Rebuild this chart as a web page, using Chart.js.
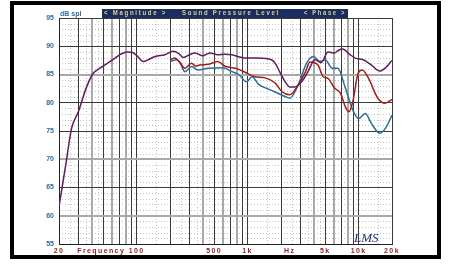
<!DOCTYPE html>
<html>
<head>
<meta charset="utf-8">
<script src="https://cdn.jsdelivr.net/npm/chart.js@4.4.1/dist/chart.umd.min.js"></script>
<style>
    html, body { margin: 0; padding: 0; background: #fff; }
    #wrap { width: 450px; height: 270px; }
</style>
</head>
<body>
<div id="wrap"><canvas id="spl" width="450" height="270"></canvas></div>
<script>
// values (Hz / dB spl)
const purpleFreq = [20, 23, 26, 30, 35, 40, 45, 52, 64, 72, 82, 92, 100, 115, 130, 147, 180, 213, 240, 265, 300, 335, 395, 456, 540, 620, 724, 850, 980, 1245, 1640, 1800, 2000, 2200, 2400, 2650, 2850, 3200, 3500, 4040, 4600, 5300, 6060, 6600, 7200, 8260, 9320, 11000, 13000, 15500, 17500, 20000];
const purpleSpl = [61.6, 69, 75.5, 78.5, 82.5, 85, 85.9, 86.7, 87.9, 88.6, 89.0, 88.9, 88.4, 87.3, 87.7, 88.2, 88.5, 89.1, 88.7, 88.0, 88.5, 88.8, 88.3, 88.8, 88.5, 88.6, 88.5, 88.1, 87.9, 87.9, 87.6, 86.8, 85.0, 83.6, 82.8, 82.8, 83.1, 84.2, 85.5, 87.6, 87.1, 89.0, 88.8, 89.3, 89.5, 88.6, 87.9, 87.6, 86.7, 85.6, 86.2, 87.5];

const redFreq = [200, 221, 245, 272, 313, 340, 372, 440, 540, 620, 780, 950, 1160, 1440, 1770, 2030, 2400, 2850, 3330, 3650, 4300, 4800, 5300, 6060, 6860, 7600, 8200, 8870, 9900, 10800, 12300, 14900, 17300, 20000];
const redSpl = [87.6, 87.9, 87.2, 86.1, 87.0, 86.5, 86.7, 86.8, 87.3, 86.5, 86.1, 85.4, 84.6, 84.4, 83.5, 82.0, 81.4, 83.1, 85.5, 87.2, 86.7, 84.6, 84.3, 82.6, 81.7, 79.3, 78.4, 80.2, 85.2, 85.8, 84.3, 80.8, 79.9, 80.6];

const blueFreq = [200, 230, 250, 272, 313, 360, 440, 600, 724, 830, 980, 1100, 1250, 1640, 2180, 2400, 2850, 3400, 3900, 4500, 5000, 5800, 6500, 7600, 8870, 10000, 11500, 13000, 15500, 17500, 20000];
const blueSpl = [87.3, 87.6, 86.8, 85.5, 86.4, 85.8, 86.1, 86.2, 85.5, 85.0, 83.7, 84.6, 83.3, 82.2, 81.1, 80.8, 83.1, 87.0, 88.2, 87.3, 87.6, 86.1, 86.1, 82.6, 78.7, 77.2, 78.1, 76.4, 74.6, 75.5, 77.8];

const yTicks = [55, 60, 65, 70, 75, 80, 85, 90, 95];
const xLabelFreqs = [20, 48, 100, 500, 1000, 2400, 5000, 10000, 20000];
const xLabelTexts = ["20", "Frequency", "100", "500", "1k", "Hz", "5k", "10k", "20k"];

// grid lines: 1..9 per decade, dotted ones in between
const gridFreqs = [];
[10, 100, 1000, 10000].forEach(d => {
    for (let m = 1; m <= 9; m++) {
        const f = m * d;
        if (f >= 20 && f <= 20000) gridFreqs.push(f);
    }
});
const minorFreqs = [25, 35, 45, 150, 250, 350, 450, 1500, 2500, 3500, 4500, 15000];

function pts(fs, vs) {
    return fs.map((f, i) => ({ x: f, y: vs[i] }));
}

function isGray(v) {
    const m = Math.round(v / Math.pow(10, Math.floor(Math.log10(v) + 1e-9)));
    return [4, 6, 8].includes(m);
}

const lmsPlugin = {
    id: "lms",
    beforeDraw(chart) {
        const ctx = chart.ctx;
        const { left, right, top, bottom } = chart.chartArea;
        const xs = chart.scales.x;
        const ys = chart.scales.y;
        ctx.save();
        ctx.letterSpacing = "0px";
        ctx.fillStyle = "#fff";
        ctx.fillRect(0, 0, chart.width, chart.height);
        // dotted minor grid
        ctx.strokeStyle = "#c4c4c4";
        ctx.lineWidth = 1;
        ctx.setLineDash([1, 2]);
        minorFreqs.forEach(f => {
            const px = Math.round(xs.getPixelForValue(f)) + 0.5;
            ctx.beginPath();
            ctx.moveTo(px, top);
            ctx.lineTo(px, bottom);
            ctx.stroke();
        });
        for (let db = 56; db < 95; db++) {
            if (db % 5 === 0) continue;
            const py = Math.round(ys.getPixelForValue(db)) + 0.5;
            ctx.beginPath();
            ctx.moveTo(left, py);
            ctx.lineTo(right, py);
            ctx.stroke();
        }
        ctx.restore();
    },
    beforeDatasetsDraw(chart) {
        // x labels (z: 1) are drawn after this, spaced out like the original
        chart.ctx.letterSpacing = "1.4px";
    },
    afterDraw(chart) {
        const ctx = chart.ctx;
        ctx.save();
        ctx.letterSpacing = "0px";
        // outer frame
        ctx.strokeStyle = "#000";
        ctx.lineWidth = 4;
        ctx.strokeRect(12, 3, 427, 254);

        // header bar
        ctx.fillStyle = "#1b2d5e";
        ctx.fillRect(102, 9, 246, 9);
        ctx.font = "bold 7px 'Liberation Sans'";
        ctx.textBaseline = "middle";
        ctx.fillStyle = "#ddd38e";
        ctx.letterSpacing = "2px";
        ctx.fillText("< Magnitude >", 104, 13.5, 63);
        ctx.fillText("Sound Pressure Level", 182, 13.5, 98);
        ctx.fillText("< Phase >", 304, 13.5, 42);

        ctx.letterSpacing = "0px";
        ctx.fillStyle = "#2f6b98";
        ctx.fillText("dB spl", 60, 14);

        // signature
        ctx.font = "italic 13px 'Liberation Serif'";
        ctx.fillStyle = "#23306e";
        ctx.textBaseline = "alphabetic";
        ctx.fillText("LMS", 354, 242);
        ctx.restore();
    },
};

new Chart(document.getElementById("spl"), {
    type: "line",
    data: {
        datasets: [
            {
                label: "Magnitude",
                data: pts(purpleFreq, purpleSpl),
                borderColor: "#5e1d5e",
            },
            {
                label: "Red",
                data: pts(redFreq, redSpl),
                borderColor: "#a31d1d",
            },
            {
                label: "Blue",
                data: pts(blueFreq, blueSpl),
                borderColor: "#2a6f9a",
            },
        ],
    },
    options: {
        responsive: false,
        animation: false,
        layout: { padding: { left: 0, top: 18, right: 58, bottom: 0 } },
        elements: {
            point: { radius: 0 },
            line: { borderWidth: 1.5, cubicInterpolationMode: "monotone", fill: false },
        },
        plugins: {
            legend: { display: false },
            tooltip: { enabled: false },
        },
        scales: {
            x: {
                type: "logarithmic",
                min: 20,
                max: 20000,
                afterBuildTicks: (s) => {
                    const vals = [...new Set([...gridFreqs, ...xLabelFreqs])].sort((a, b) => a - b);
                    s.ticks = vals.map(v => ({ value: v }));
                },
                afterFit: (s) => { s.height = 26; },
                grid: {
                    drawTicks: false,
                    color: (c) => {
                        const v = c.tick && c.tick.value;
                        if (!gridFreqs.includes(v)) return "rgba(0,0,0,0)";
                        return isGray(v) ? "#a9a9a9" : "#3a3a3a";
                    },
                    lineWidth: (c) => {
                        const v = c.tick && c.tick.value;
                        return v && isGray(v) ? 2 : 1;
                    },
                },
                border: { color: "#222", width: 1 },
                ticks: {
                    z: 1,
                    autoSkip: false,
                    maxRotation: 0,
                    padding: 3,
                    color: "#8e1b1b",
                    font: { family: "Liberation Sans", size: 7, weight: "bold" },
                    callback: (v) => {
                        const k = xLabelFreqs.indexOf(v);
                        return k >= 0 ? xLabelTexts[k] : "";
                    },
                },
            },
            y: {
                min: 55,
                max: 95,
                afterBuildTicks: (s) => {
                    s.ticks = yTicks.map(v => ({ value: v }));
                },
                afterFit: (s) => { s.width = 59; },
                grid: {
                    drawTicks: false,
                    color: (c) => ([60, 70, 85].includes(c.tick && c.tick.value) ? "#a9a9a9" : "#3a3a3a"),
                    lineWidth: (c) => ([60, 70, 85].includes(c.tick && c.tick.value) ? 2 : 1),
                },
                border: { color: "#222", width: 1 },
                ticks: {
                    padding: 5,
                    color: "#2f6b98",
                    font: { family: "Liberation Sans", size: 7, weight: "bold" },
                },
            },
        },
    },
    plugins: [lmsPlugin],
});
</script>
</body>
</html>
